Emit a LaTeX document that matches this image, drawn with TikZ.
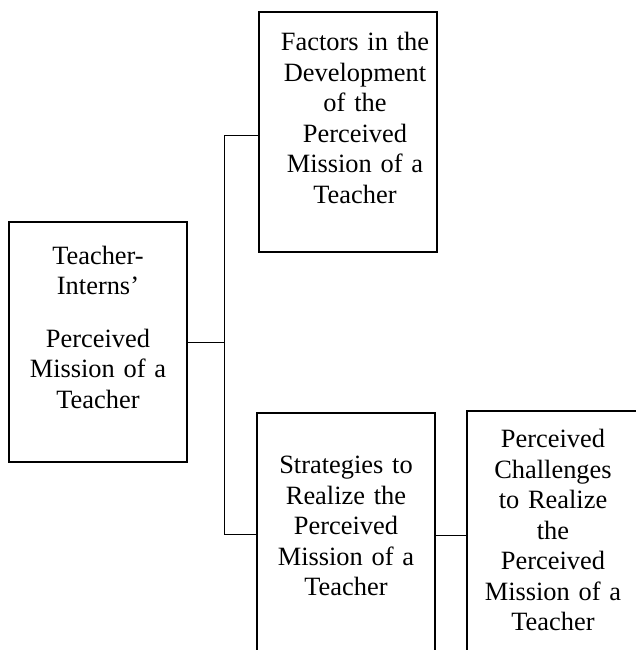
\documentclass[tikz,border=0pt]{standalone}
\usepackage{fontspec}
\setmainfont{Liberation Serif}
\usetikzlibrary{positioning}

\begin{document}
\begin{tikzpicture}[x=1pt,y=-1pt,
    box/.style={draw,line width=2pt,rectangle,minimum width=178pt,minimum height=240pt,inner sep=0pt},
    boxtext/.style={text width=170pt,align=center,inner sep=0pt,font=\fontsize{26.4}{30.5}\selectfont},
    link/.style={line width=1pt}]
  \useasboundingbox (0,0) rectangle (635,650);
  \node (mission) [box] at (98,342) {};
  \node (factors) [box] at (348,132) {};
  \node (strategies) [box] at (346,533) {};
  \node (challenges) [box,minimum width=172pt] at (553,531) {};

  \node (missiontext) [boxtext] at (mission.center) [yshift=15pt] {Teacher-\\Interns’\\[22pt]Perceived\\Mission of a\\Teacher};
  \node (factorstext) [boxtext] at (factors.center) [xshift=7pt,yshift=14pt] {Factors in the\\Development\\of the\\Perceived\\Mission of a\\Teacher};
  \node (strategiestext) [boxtext] at (strategies.center) [yshift=7pt] {Strategies to\\Realize the\\Perceived\\Mission of a\\Teacher};
  \node (challengestext) [boxtext] at (challenges.center) [yshift=1pt] {Perceived\\Challenges\\to Realize\\the\\Perceived\\Mission of a\\Teacher};

  \coordinate (fork) at (224,342);
  \coordinate (forktop) at (224,135);
  \coordinate (forkbot) at (224,534);
  \coordinate (joint) at (451,535);
  \draw [link] (mission.east |- fork) -- (fork);
  \draw [link] (factors.west |- forktop) -- (forktop) -- (forkbot) -- (strategies.west |- forkbot);
  \draw [link] (strategies.east |- joint) -- (challenges.west |- joint);
\end{tikzpicture}
\end{document}
